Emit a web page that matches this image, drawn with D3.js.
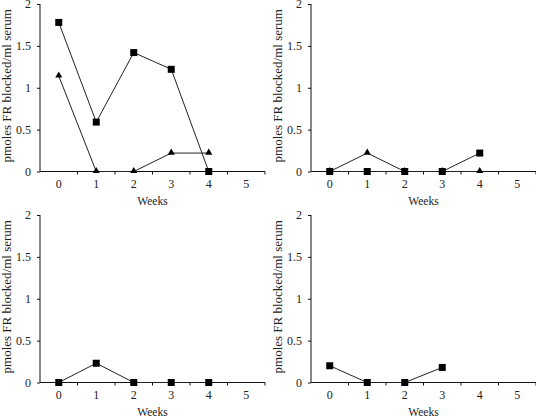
<!DOCTYPE html>
<html><head><meta charset="utf-8">
<script src="https://cdn.jsdelivr.net/npm/d3@7"></script>
<style>body{margin:0;background:#fff}svg{display:block}</style>
</head><body>
<svg id="c" width="536" height="416"></svg>
<script>
const weeks = [0, 1, 2, 3, 4, 5];
const yTicks = [0, 0.5, 1, 1.5, 2];
const yLabel = "pmoles FR blocked/ml serum";
const xLabel = "Weeks";

// Panel A (top-left)
const aSquares = [1.78, 0.59, 1.42, 1.22, 0.0];
const aTriangles = [1.14, 0.0, 0.0, 0.22, 0.22];
// Panel B (top-right)
const bSquares = [0.0, 0.0, 0.0, 0.0, 0.22];
const bTriangles = [0.0, 0.22, 0.0, 0.0, 0.0];
// Panel C (bottom-left)
const cSquares = [0.0, 0.23, 0.0, 0.0, 0.0];
// Panel D (bottom-right)
const dSquares = [0.2, 0.0, 0.0, 0.18];

const panels = [
  {x0: 40, x1: 265, yTop: 4, yBot: 171.5, series: [{v: aSquares, m: "sq"}, {v: aTriangles, m: "tri"}]},
  {x0: 311, x1: 536, yTop: 4, yBot: 171.5, series: [{v: bTriangles, m: "tri"}, {v: bSquares, m: "sq"}]},
  {x0: 40, x1: 265, yTop: 215, yBot: 382.5, series: [{v: cSquares, m: "sq"}]},
  {x0: 311, x1: 536, yTop: 215, yBot: 382.5, series: [{v: dSquares, m: "sq"}]}
];

const svg = d3.select("#c");
const font = "Liberation Serif, DejaVu Serif, serif";
const ink = "#111";
const txt = "#222";

panels.forEach(p => {
  const g = svg.append("g");
  const x = d3.scaleBand().domain(weeks).range([p.x0, p.x1]).paddingInner(0).paddingOuter(0);
  const y = d3.scaleLinear().domain([0, 2]).range([p.yBot, p.yTop]);

  const ya = g.append("g").attr("transform", `translate(${p.x0},0)`)
    .call(d3.axisLeft(y).tickValues(yTicks).tickSize(3).tickPadding(6).tickFormat(d => d3.format("~g")(d)));
  const xa = g.append("g").attr("transform", `translate(0,${p.yBot})`)
    .call(d3.axisBottom(x).tickSize(0).tickPadding(8));
  g.selectAll(".bt").data(weeks).join("line")
    .attr("x1", d => x(d) + x.bandwidth()).attr("x2", d => x(d) + x.bandwidth())
    .attr("y1", p.yBot).attr("y2", p.yBot + 3)
    .attr("stroke", ink).attr("stroke-width", 1);

  [ya, xa].forEach(a => {
    a.select(".domain").attr("stroke", ink).attr("stroke-width", 1);
    a.selectAll(".tick line").attr("stroke", ink);
    a.selectAll("text").attr("font-family", font).attr("font-size", 12).attr("fill", txt);
  });
  ya.select(".domain").attr("d", `M0,${p.yTop}V${p.yBot}`);
  xa.select(".domain").attr("d", `M${p.x0},0H${p.x1}`);

  g.append("text").attr("x", (p.x0 + p.x1) / 2).attr("y", p.yBot + 33.5)
    .attr("text-anchor", "middle").attr("font-family", font).attr("font-size", 11.5).attr("fill", txt)
    .text(xLabel);
  g.append("text")
    .attr("transform", `translate(${p.x0 - 29},${(p.yTop + p.yBot) / 2 - 2}) rotate(-90)`)
    .attr("text-anchor", "middle").attr("font-family", font).attr("font-size", 13).attr("fill", txt)
    .text(yLabel);

  const cx = i => x(weeks[i]) + x.bandwidth() / 2;
  const line = d3.line().x((d, i) => cx(i)).y(d => y(d));
  p.series.forEach(s => {
    g.append("path").datum(s.v).attr("d", line).attr("fill", "none").attr("stroke", "#222").attr("stroke-width", 1);
  });
  p.series.forEach(s => {
    if (s.m === "sq") {
      g.selectAll(null).data(s.v).join("rect")
        .attr("x", (d, i) => cx(i) - 3.5).attr("y", d => y(d) - 3.5)
        .attr("width", 7).attr("height", 7).attr("fill", "#000");
    } else {
      const tri = d3.symbol().type(d3.symbolTriangle).size(22);
      g.selectAll(null).data(s.v).join("path")
        .attr("d", tri)
        .attr("transform", (d, i) => `translate(${cx(i)},${y(d) - 0.5})`)
        .attr("fill", "#000");
    }
  });
});
</script>
</body></html>
